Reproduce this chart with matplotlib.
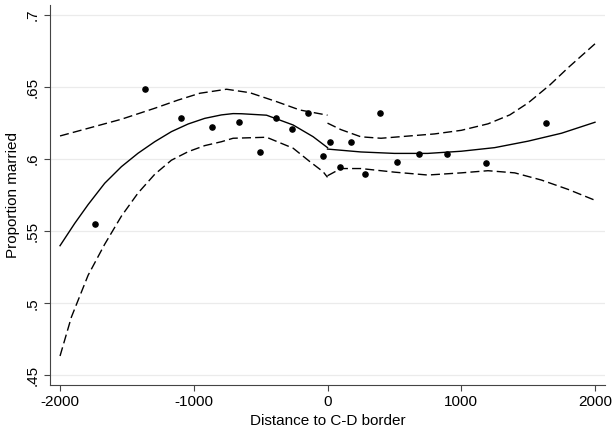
import matplotlib
matplotlib.use("Agg")
import matplotlib.pyplot as plt
from matplotlib.ticker import FuncFormatter

plt.rcParams['font.family'] = ['Liberation Sans', 'DejaVu Sans']
plt.rcParams['axes.unicode_minus'] = False

# binned means (distance to border, proportion married)
bin_x = [-1735, -1366, -1092, -860, -661, -504, -387, -262, -145, -33,
         17, 92, 179, 279, 391, 516, 683, 897, 1182, 1633]
bin_y = [0.555, 0.6485, 0.6288, 0.6225, 0.6256, 0.6048, 0.6288, 0.621, 0.6322, 0.6022,
         0.6121, 0.5948, 0.6121, 0.590, 0.6318, 0.5978, 0.6038, 0.6038, 0.5976, 0.6253]

# fitted polynomial and 95% band, left side of the border
fit_left_x = [-2000, -1890, -1790, -1666, -1541, -1417, -1292, -1167, -1042, -918,
              -793, -706, -643, -456, -257, -108, 0]
fit_left_y = [0.540, 0.5555, 0.5685, 0.5833, 0.5948, 0.6041, 0.6121, 0.6191, 0.6244, 0.6283,
              0.6307, 0.6316, 0.6315, 0.6305, 0.6237, 0.6156, 0.608]
hi_left_x = [-2000, -1790, -1541, -1292, -1117, -955, -755, -581, -381, -207, 0]
hi_left_y = [0.6161, 0.6214, 0.6277, 0.6353, 0.641, 0.6457, 0.6485, 0.6461, 0.6399, 0.6341,
             0.6305]
lo_left_x = [-2000, -1915, -1790, -1666, -1541, -1417, -1292, -1167, -1042, -918,
             -793, -706, -456, -257, -132, -33, 0]
lo_left_y = [0.4635, 0.4905, 0.5195, 0.541, 0.5605, 0.5765, 0.5895, 0.5993, 0.6052, 0.6094,
             0.6121, 0.6145, 0.6152, 0.6076, 0.5983, 0.5913, 0.5874]

# fitted polynomial and 95% band, right side of the border
fit_right_x = [0, 250, 500, 750, 1000, 1250, 1500, 1750, 2000]
fit_right_y = [0.607, 0.605, 0.604, 0.604, 0.6055, 0.608, 0.6125, 0.618, 0.6256]
hi_right_x = [0, 100, 250, 400, 600, 800, 1000, 1200, 1363, 1500, 1663, 1800, 2000]
hi_right_y = [0.625, 0.6205, 0.6155, 0.6145, 0.616, 0.6175, 0.620, 0.6245, 0.6307, 0.639,
              0.6515, 0.6635, 0.680]
lo_right_x = [0, 100, 250, 500, 750, 1000, 1200, 1400, 1600, 1800, 2000]
lo_right_y = [0.5885, 0.5935, 0.5935, 0.591, 0.589, 0.5905, 0.592, 0.5905, 0.5855, 0.579,
              0.5715]

x_ticks = [-2000, -1000, 0, 1000, 2000]
y_ticks = [0.45, 0.5, 0.55, 0.6, 0.65, 0.7]

fig = plt.figure(figsize=(6.12, 4.29), dpi=100)
ax = fig.add_axes([0.0817, 0.1026, 0.9069, 0.8857])

for yv in y_ticks:
    ax.axhline(yv, color='#ebebeb', linewidth=0.9, zorder=0)

dash = (0, (6.5, 3))
ax.plot(fit_left_x, fit_left_y, color='black', linewidth=1.0)
ax.plot(fit_right_x, fit_right_y, color='black', linewidth=1.0)
for xs, ys in [(hi_left_x, hi_left_y), (lo_left_x, lo_left_y),
               (hi_right_x, hi_right_y), (lo_right_x, lo_right_y)]:
    ax.plot(xs, ys, color='black', linewidth=1.0, linestyle=dash)

ax.scatter(bin_x, bin_y, s=14, color='black', zorder=3)

ax.set_xlim(-2075, 2075)
ax.set_ylim(0.4434, 0.7069)
ax.set_xticks(x_ticks)
ax.set_yticks(y_ticks)
ax.yaxis.set_major_formatter(FuncFormatter(lambda v, p: ('%g' % v).lstrip('0')))
ax.tick_params(axis='both', direction='out', length=4, width=0.8, color='#444444',
               labelsize=11)
for lab in ax.get_yticklabels():
    lab.set_rotation(90)
    lab.set_va('center')

for side in ['top', 'right']:
    ax.spines[side].set_visible(False)
for side in ['left', 'bottom']:
    ax.spines[side].set_color('#444444')
    ax.spines[side].set_linewidth(0.8)

ax.set_xlabel('Distance to C-D border', fontsize=11, labelpad=3)
ax.set_ylabel('Proportion married', fontsize=11, labelpad=4)

fig.savefig('out.png', dpi=100)
